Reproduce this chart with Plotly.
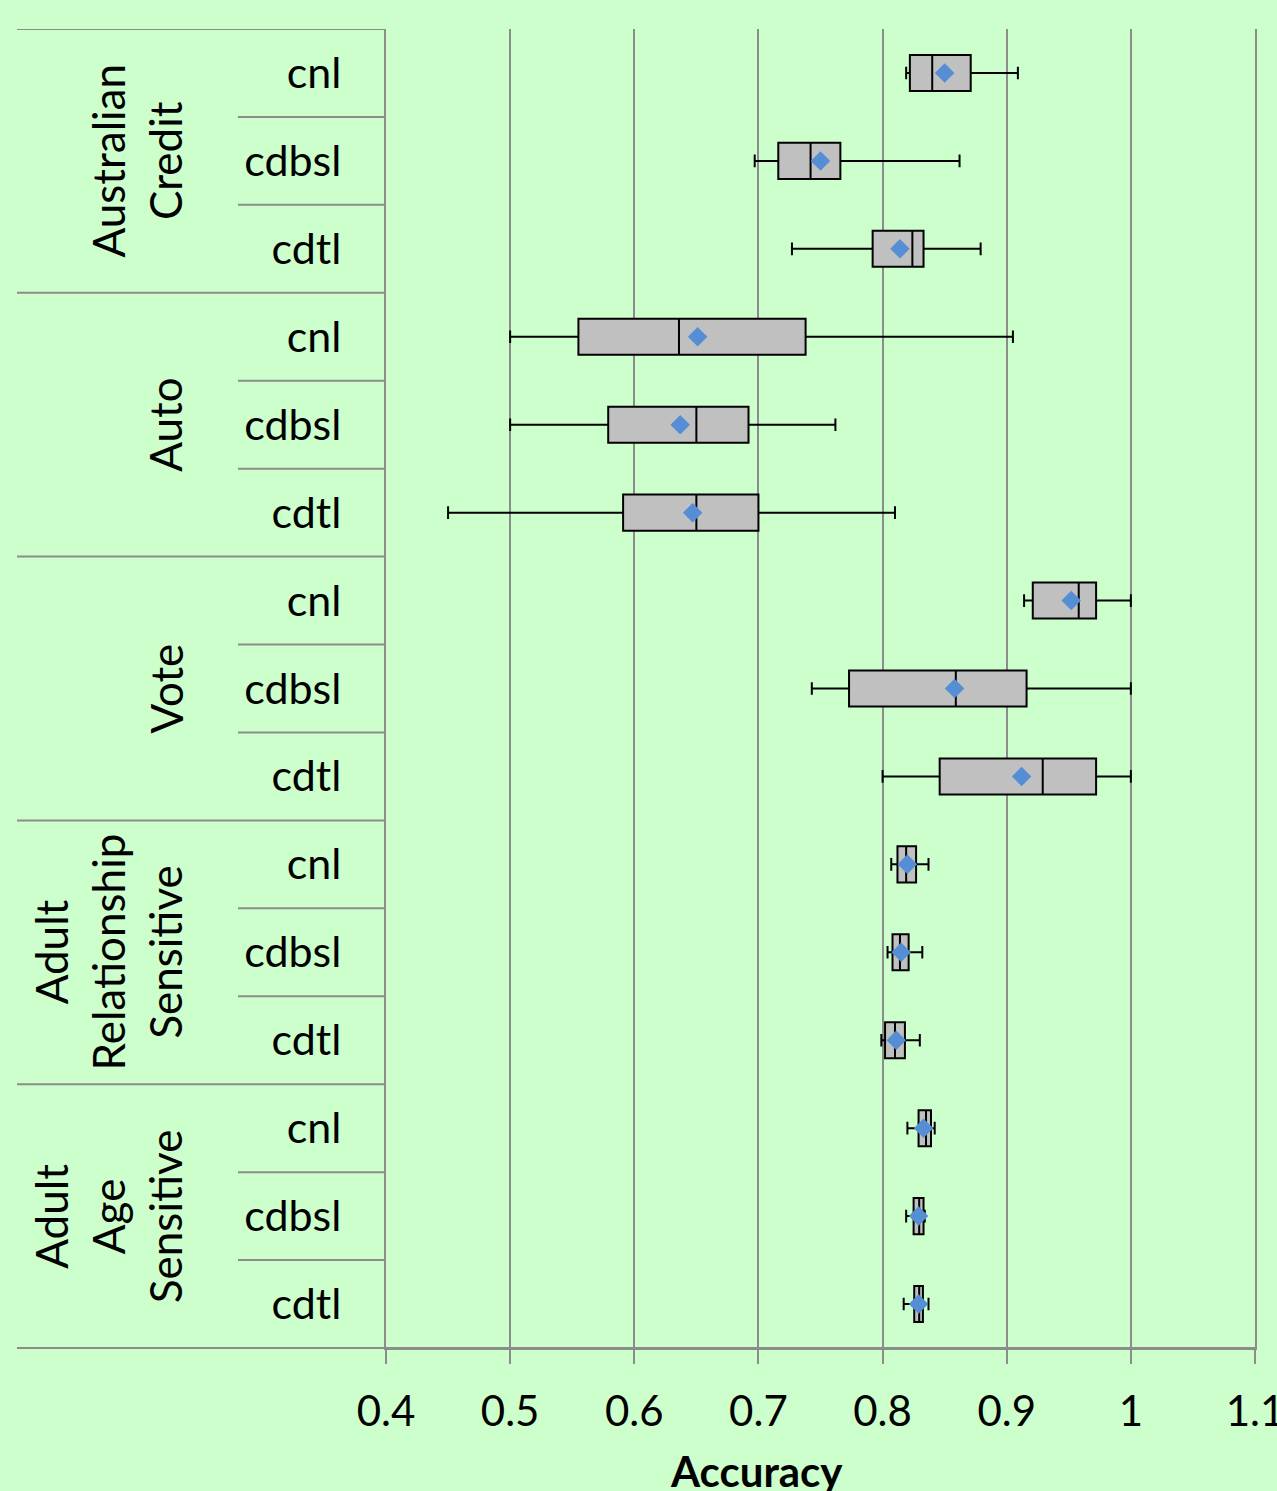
import plotly.graph_objects as go

# ---- data ----
datasets = ["Australian<br>Credit", "Auto", "Vote",
            "Adult<br>Relationship<br>Sensitive", "Adult<br>Age<br>Sensitive"]
methods = ["cnl", "cdbsl", "cdtl"]

row_labels = [m for _ in datasets for m in methods]

q1 = [0.822, 0.716, 0.792, 0.555, 0.579, 0.591, 0.921, 0.773, 0.846,
      0.812, 0.808, 0.802, 0.829, 0.825, 0.8255]
median = [0.840, 0.742, 0.824, 0.636, 0.650, 0.650, 0.958, 0.859, 0.929,
          0.819, 0.814, 0.810, 0.835, 0.8295, 0.8295]
q3 = [0.871, 0.766, 0.833, 0.738, 0.692, 0.700, 0.972, 0.916, 0.972,
      0.827, 0.821, 0.818, 0.839, 0.833, 0.8325]
lower = [0.819, 0.697, 0.727, 0.500, 0.500, 0.450, 0.914, 0.743, 0.800,
         0.807, 0.804, 0.799, 0.820, 0.819, 0.817]
upper = [0.909, 0.862, 0.879, 0.905, 0.762, 0.810, 1.000, 1.000, 1.000,
         0.837, 0.832, 0.830, 0.842, 0.834, 0.837]
mean = [0.850, 0.750, 0.814, 0.651, 0.637, 0.647, 0.952, 0.858, 0.912,
        0.820, 0.815, 0.811, 0.833, 0.829, 0.829]

x_ticks = [0.4, 0.5, 0.6, 0.7, 0.8, 0.9, 1.0, 1.1]
x_ticktext = ["0.4", "0.5", "0.6", "0.7", "0.8", "0.9", "1", "1.1"]

FONT = "Lato, Carlito, 'Open Sans', sans-serif"
GRID = "#8c8c8c"
BG = "#ccffcc"

pos = list(range(len(row_labels)))

fig = go.Figure()
fig.add_trace(go.Box(
    y=pos, q1=q1, median=median, q3=q3,
    lowerfence=lower, upperfence=upper,
    orientation="h", width=0.41, whiskerwidth=0.35,
    fillcolor="#c0c0c0", line=dict(color="black", width=2),
    boxpoints=False, showlegend=False, hoverinfo="skip",
))
fig.add_trace(go.Scatter(
    x=mean, y=pos, mode="markers",
    marker=dict(symbol="diamond", size=15, color="#558ed5"),
    showlegend=False, hoverinfo="skip",
))

shapes = []
# group separators (long) and row separators (short)
for i in range(len(row_labels) + 1):
    yb = i - 0.5
    x0 = -0.4246 if i % 3 == 0 else -0.1703
    shapes.append(dict(type="line", xref="paper", yref="y",
                       x0=x0, x1=0, y0=yb, y1=yb,
                       line=dict(color=GRID, width=2)))
# bottom line extending left
shapes.append(dict(type="line", xref="paper", yref="paper",
                   x0=-0.4246, x1=1, y0=0, y1=0,
                   line=dict(color=GRID, width=2)))

annotations = []
for g, name in enumerate(datasets):
    annotations.append(dict(
        text=name, xref="paper", yref="y",
        x=-0.222, y=g * 3 + 1, xanchor="right", yanchor="middle",
        textangle=-90, showarrow=False, align="center",
        font=dict(family=FONT, size=44, color="black"),
    ))
annotations.append(dict(
    text="<b>Accuracy</b>", xref="paper", yref="paper",
    x=0.4258, y=-0.093, xanchor="center", yanchor="middle",
    showarrow=False, font=dict(family=FONT, size=42, color="black"),
))

fig.update_layout(
    width=1277, height=1491,
    margin=dict(l=386, r=22, t=29, b=143, autoexpand=False),
    paper_bgcolor=BG, plot_bgcolor=BG,
    shapes=shapes, annotations=annotations,
    xaxis=dict(range=[0.4, 1.1000001], tickvals=x_ticks, ticktext=x_ticktext,
               showgrid=True, gridcolor=GRID, gridwidth=2,
               zeroline=False, showline=True, linecolor=GRID, linewidth=2,
               ticks="outside", ticklen=14, tickcolor=GRID, tickwidth=2,
               ticklabelstandoff=12, ticklabeloverflow="allow",
               automargin=False,
               tickfont=dict(family=FONT, size=42, color="black")),
    yaxis=dict(range=[14.5, -0.5], tickvals=pos, ticktext=row_labels,
               showgrid=False, zeroline=False, showline=True, mirror=True,
               linecolor=GRID, linewidth=2, ticks="",
               ticklabelstandoff=34, automargin=False,
               tickfont=dict(family=FONT, size=43, color="black")),
)

fig.write_html(
    "out.html",
    config={"displayModeBar": False},
    post_script="document.body.style.margin='0';document.body.style.overflow='hidden';",
)
